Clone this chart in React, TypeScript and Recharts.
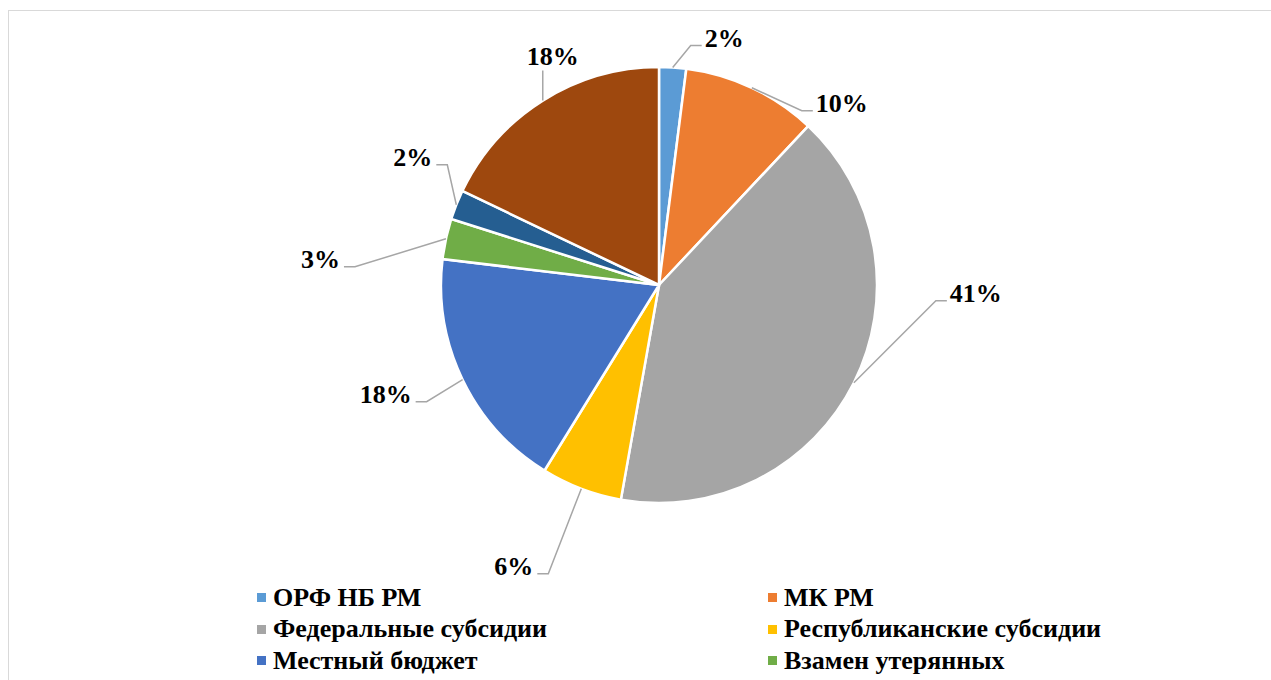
import { PieChart, Pie, Cell, Legend } from 'recharts';

const categories = [
  'ОРФ НБ РМ',
  'МК РМ',
  'Федеральные субсидии',
  'Республиканские субсидии',
  'Местный бюджет',
  'Взамен утерянных',
  'Дары',
  'Обязательный экземпляр',
];
const shares = [2, 10, 40.8, 6, 18.1, 3, 2.2, 17.9];
const colors = ['#5B9BD5', '#ED7D31', '#A5A5A5', '#FFC000', '#4472C4', '#70AD47', '#255E91', '#9E480E'];
// where each leader line ends, relative to the slice edge at its mid angle
const labelShift = [
  [29, -22],
  [61, 23],
  [93, -82],
  [-44, 85],
  [-47, 22],
  [-102, 28],
  [-20, -40],
  [0, -30],
];
// the frame crops the legend after its third row
const legendVisible = 6;

const data = categories.map((name, i) => ({ name, value: shares[i] }));

const RAD = Math.PI / 180;
const FONT = '"Liberation Serif", "Times New Roman", Times, Tinos, "DejaVu Serif", serif';

function PctLabel(props: any) {
  const { cx, cy, midAngle, outerRadius, percent, index } = props;
  const sx = cx + outerRadius * Math.cos(-midAngle * RAD);
  const sy = cy + outerRadius * Math.sin(-midAngle * RAD);
  const [dx, dy] = labelShift[index];
  const ex = sx + dx;
  const ey = sy + dy;
  const text = `${Math.round(percent * 100)}%`;

  if (dx === 0) {
    return (
      <g>
        <line x1={sx} y1={sy} x2={ex} y2={ey} stroke="#a6a6a6" strokeWidth={1.5} />
        <text
          x={ex + 10}
          y={ey - 14}
          textAnchor="middle"
          dominantBaseline="central"
          fill="#000"
          fontFamily={FONT}
          fontWeight="bold"
          fontSize={26}
        >
          {text}
        </text>
      </g>
    );
  }

  const right = dx > 0;
  const kx = ex + (right ? -11 : 11);
  return (
    <g>
      <polyline points={`${sx},${sy} ${kx},${ey} ${ex},${ey}`} fill="none" stroke="#a6a6a6" strokeWidth={1.5} />
      <text
        x={right ? ex + 3 : ex - 4}
        y={ey - 7}
        textAnchor={right ? 'start' : 'end'}
        dominantBaseline="central"
        fill="#000"
        fontFamily={FONT}
        fontWeight="bold"
        fontSize={26}
      >
        {text}
      </text>
    </g>
  );
}

function LegendGrid({ payload }: any) {
  const items = [...(payload || [])]
    .sort((a: any, b: any) => categories.indexOf(a.value) - categories.indexOf(b.value))
    .slice(0, legendVisible);
  return (
    <div
      style={{
        display: 'grid',
        gridTemplateColumns: '511px 511px',
        fontFamily: FONT,
        fontWeight: 'bold',
        fontSize: 26,
        color: '#000',
      }}
    >
      {items.map((entry: any) => (
        <div key={entry.value} style={{ display: 'flex', alignItems: 'center', height: 31.5, whiteSpace: 'nowrap' }}>
          <span
            style={{
              display: 'inline-block',
              width: 9,
              height: 9,
              background: colors[categories.indexOf(entry.value)],
              marginRight: 7,
            }}
          />
          <span>{entry.value}</span>
        </div>
      ))}
    </div>
  );
}

export default function App() {
  return (
    <div style={{ position: 'relative', width: 1271, height: 680, overflow: 'hidden', background: '#fff' }}>
      <style>{'body{margin:0}'}</style>
      <div
        style={{
          position: 'absolute',
          left: 8,
          top: 10,
          width: 1400,
          height: 800,
          border: '1.5px solid #d9d9d9',
        }}
      />
      <div style={{ position: 'absolute', left: 0, top: 0 }}>
        <PieChart width={1271} height={680} margin={{ top: 0, right: 0, bottom: 0, left: 0 }}>
          <Pie
            data={data}
            dataKey="value"
            nameKey="name"
            cx={659}
            cy={285}
            outerRadius={218}
            startAngle={90}
            endAngle={-270}
            stroke="#fff"
            strokeWidth={2.5}
            label={PctLabel}
            labelLine={false}
            isAnimationActive={false}
          >
            {data.map((d, i) => (
              <Cell key={d.name} fill={colors[i]} />
            ))}
          </Pie>
          <Legend
            content={<LegendGrid />}
            wrapperStyle={{ position: 'absolute', left: 257, top: 582, width: 1030, height: 95 }}
          />
        </PieChart>
      </div>
    </div>
  );
}
